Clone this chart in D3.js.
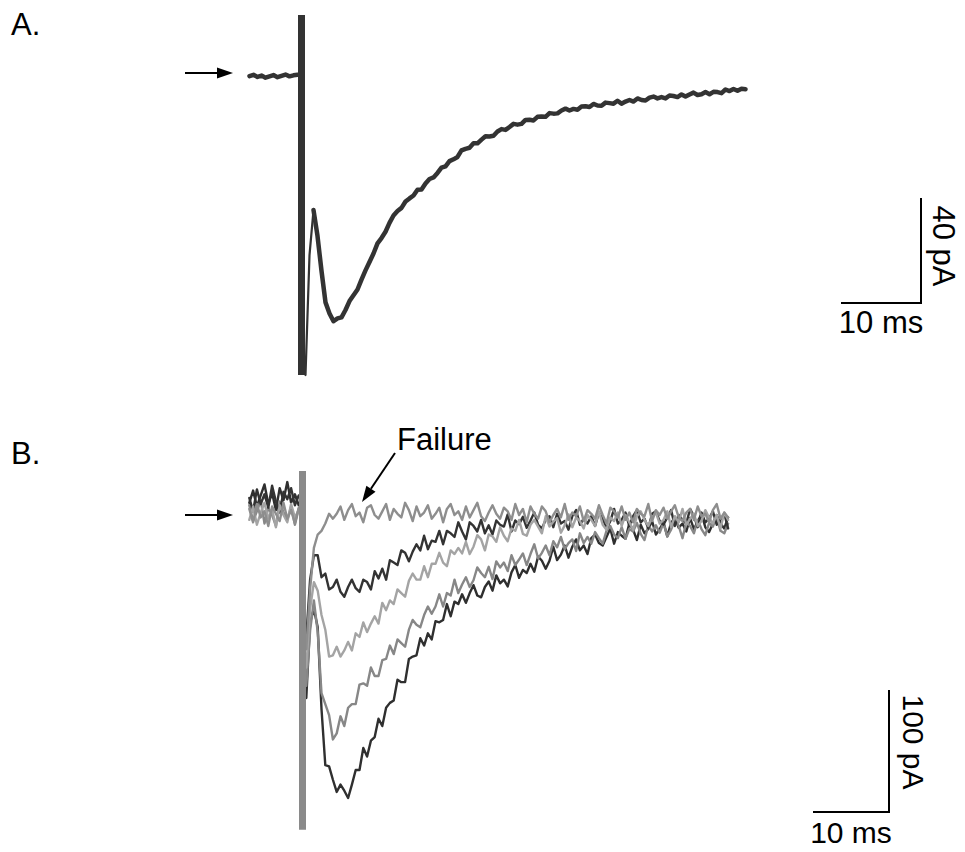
<!DOCTYPE html>
<html>
<head>
<meta charset="utf-8">
<script src="https://cdn.jsdelivr.net/npm/d3@7"></script>
<style>
  body { margin: 0; background: #fff; }
  svg { display: block; }
  text { font-family: "Liberation Sans", Arial, Helvetica, sans-serif; fill: #000; }
</style>
</head>
<body>
<svg id="fig" width="965" height="852"></svg>
<script>
// ---- recording parameters ----
const dt = 0.5;            // sampling interval of the displayed traces (ms)

// ---- Panel A: single evoked EPSC (pA) ----
const aPreStart = -6.5;    // ms, first pre-stimulus sample
const aPre = [-0.8, -0.3, -1.1, -0.6, -1.4, -0.9, -0.4, -1.2, -0.7, -0.2, -0.9, -0.5, -0.3];
const aPostStart = 0.5;    // ms, first post-stimulus sample
const aPost = [
  -114.7, -69, -51.8, -61.7, -75, -87, -91.2, -94.2, -93.1, -92.7,
  -89.9, -86.5, -84.3, -82.1, -78.3, -74.8, -71.6, -68.4, -64.5, -62.5,
  -60.1, -56.7, -53.9, -52.2, -51, -48.6, -47.4, -46.3, -44.1, -44,
  -41.7, -40, -39.4, -37.7, -35.7, -35.2, -33.2, -32.5, -31.6, -29.1,
  -28.5, -28.1, -26.4, -26.4, -25, -23.7, -23.8, -23.5, -21.9, -21,
  -21.3, -20.2, -19, -19.3, -19, -17.5, -17.4, -17.7, -16.3, -16.2,
  -16.3, -14.9, -15.1, -15, -13.9, -13.2, -13.9, -13.3, -13.6, -12.4,
  -12.3, -12.6, -11.4, -12, -12.1, -10.9, -11.1, -11.3, -10.2, -11.3,
  -10.5, -9.9, -10.5, -9.3, -9.9, -10.1, -9, -8.6, -9.3, -8.8,
  -9.3, -8.2, -8.4, -8.8, -7.8, -8.6, -7.8, -7.1, -8, -7.7,
  -6.9, -7.7, -6.8, -6.9, -7.3, -5.9, -6.5, -5.7, -6.4, -5.6, -5.8
];
const aFastSamples = 3;             // artifact recovery drawn as a fine line
const aArtifact = [22.5, -114.7];   // stimulus artifact extent (pA)
const aScaleBar = { ms: 10, pA: 40 };

// ---- Panel B: five consecutive trials (pA) ----
const bPreStart = -7;
const bPostStart = 0.5;
const bFailurePre = [5, -6, 9, -2, 3, -9, 7, 1, -5, 10, -3, 4, -7, 6];
const bFailurePost = [
  -110, -61, -27, -16, -13, -7, 1, -3, 1, 7, -4, 4, 9, -1, 2, -6, 6, 8, 0, -3,
  3, 9, -4, 5, 1, -2, 10, 4, -5, 7, -1, 2, 8, -3, 1, 6, -6, 5, 9, 0,
  3, -4, 7, -2, 4, 10, -1, -5, 2, 8, 1, -3, 6, 3, -4, 9, 0, 5, -6, 7,
  1, -3, 7, 3, -6, 0, 5, -2, 9, -4, 2, -1, 7, -5, 4, 1, -3, 8, 0, -7,
  6, 3, -2, 7, -4, 2, -6, 5, 1, -1, 9, -5, 4, 0, 6, -3, 3, 8, -2, -5,
  2, 5, -4, 7, -1, 1, -6, 4, 9, -3, 2, -2
];
const bSmallPre = [14, 3, 21, 9, 17, 6, 24, 11, 2, 19, 13, 22, 8, 16];
const bSmallPost = [
  -100, -53, -33, -33, -51, -48, -61, -59, -53, -63, -67, -59, -53, -60, -63, -53, -55, -61, -46, -52,
  -44, -53, -37, -39, -41, -29, -31, -38, -30, -24, -29, -17, -28, -21, -22, -13, -24, -13, -15, -18,
  -6, -13.5, -20, -6, -9, -13.5, -4, -15, -8.5, -16, -4.5, -8, -9.5, 0.5, -13.5, -4.5, -7.5, -1.5, -10.5, -4.5,
  2, -8, -11, -4, -1, -10, 1, -7, -5, -12, -1, 4, -8, -3, -7, -1, -9, 2, -3, -11,
  -5, 5, -7, -4, 2, -9, -1, 4, -6, -3, -11, 1, 3, -5, -8, -2, 4, -9, 0, -4,
  -7, 5, -1, -10, 2, -6, -3, 3, -8, -4, 1, -11
];
const bMediumPre = [-4, 7, -8, 2, 10, -3, 5, -10, 8, 0, -6, 9, -2, 4];
const bMediumPost = [
  -125, -77, -55, -62, -82, -94, -116, -115, -108, -116, -111, -104, -111, -97, -100, -88, -96, -89, -83, -89,
  -72, -78, -70, -73, -61, -64, -67, -54, -48, -53, -53, -42, -51, -40, -40, -31, -39, -42, -29, -32,
  -27, -31.5, -22, -32, -26, -16.5, -20, -29, -16, -17.5, -22, -10, -17, -21.5, -11, -13, -4, -15.5, -17, -8,
  -4, -9.5, -15, -1, -9.5, -5.5, -2.5, -14.5, -8.5, 0.5, -10, -2, -5, -11, 0, -4, -9, 3, -8, -12,
  -2, -5, 2, -9, 0, -6, -12, -1, 3, -4, -9, -2, 2, -7, -4, 3, -10, -1, -6, 5,
  -8, -3, 1, -9, -5, 4, -2, -7, 0, -11, 2, -4
];
const bLargePre = [8, -5, 3, 12, -7, 6, 0, -9, 11, 2, -4, 7, -8, 5];
const bLargePost = [
  -140, -95, -70, -96, -146, -155, -164, -184, -179, -165, -173, -158, -155, -155, -139, -138, -140, -125, -132, -132,
  -119, -118, -107, -114, -102, -105, -108, -94, -86, -90, -92, -82, -75, -81, -75, -65, -75, -64, -66, -53,
  -64, -57, -51, -59, -53.5, -43, -47.5, -51, -42.5, -52.5, -38, -43, -39, -46, -33, -41, -36.5, -31.5, -41, -32,
  -24, -35.5, -31, -25, -33, -21.5, -26.5, -18, -28, -23, -20, -29.5, -15, -23, -18, -23.5, -14, -19, -23.5, -13,
  -9, -16, -19, -10, -19.5, -11.5, -13.5, -6.5, -15.5, -20.5, -8.5, -13.5, -8.5, -14.5, -6.5, -17.5, -12, -4, -9, -19,
  -6, -9, -15, -4, -11.5, -16.5, -6.5, -9.5, -1, -13, -15, -7
];
const bMaxPre = [10, 20, 7, 16, 25, 9, 18, 4, 22, 12, 27, 10, 17, 8];
const bMaxPost = [
  -150, -88, -77, -92, -159, -205, -206, -217, -227, -221, -226, -232, -221, -209, -209, -191, -198, -185, -182, -167,
  -173, -158, -154, -152, -135, -137, -137, -118, -116, -115, -101, -107, -97, -102, -87, -88, -86, -73, -83, -71,
  -73, -65, -72, -64, -57.5, -66, -67.5, -59, -54.5, -62, -49.5, -56, -53, -58.5, -47, -41, -51.5, -45, -47.5, -40,
  -46.5, -34, -37.5, -44, -37.5, -26, -37, -32.5, -25, -35, -26, -20, -29, -25, -32, -19, -16, -23, -25, -18,
  -11, -23.5, -14, -17, -19.5, -7, -12, -20.5, -8, -15, -11.5, -5, -16, -11.5, -6, -17.5, -6.5, -2, -10.5, -7,
  -13.5, -2.5, -11.5, -5.5, 1, -10, -14, -7, 0, -7, -11, -2
];
const bArtifact = [36, -258];
const bScaleBar = { ms: 10, pA: 100 };

// trace colours, in drawing order (back to front)
const bNames  = ["max", "large", "small", "medium", "failure"];
const bColors = ["#2f2f2f", "#878787", "#333333", "#a4a4a4", "#8e8e8e"];
const bPres   = [bMaxPre, bLargePre, bSmallPre, bMediumPre, bFailurePre];
const bPosts  = [bMaxPost, bLargePost, bSmallPost, bMediumPost, bFailurePost];

// ---- scales ----
const xA = d3.scaleLinear().domain([0, 10]).range([301.5, 381.5]);
const yA = d3.scaleLinear().domain([0, -40]).range([74, 179]);
const xB = d3.scaleLinear().domain([0, 10]).range([302.5, 378.5]);
const yB = d3.scaleLinear().domain([0, -100]).range([515, 637]);

const svg = d3.select("#fig");
const samples = (start, vals) => vals.map((v, i) => ({ t: start + i * dt, v }));

function drawTrace(g, xs, ys, pts, color, width) {
  const line = d3.line().x(d => xs(d.t)).y(d => ys(d.v));
  g.append("path")
    .attr("d", line(pts))
    .attr("fill", "none")
    .attr("stroke", color)
    .attr("stroke-width", width)
    .attr("stroke-linejoin", "round")
    .attr("stroke-linecap", "round");
}

function arrow(g, x1, y1, x2, y2) {
  const ang = Math.atan2(y2 - y1, x2 - x1);
  const L = 16, W = 5.5;
  const bx = x2 - L * Math.cos(ang), by = y2 - L * Math.sin(ang);
  g.append("line").attr("x1", x1).attr("y1", y1).attr("x2", bx).attr("y2", by)
    .attr("stroke", "#000").attr("stroke-width", 2);
  const px = -Math.sin(ang) * W, py = Math.cos(ang) * W;
  g.append("path")
    .attr("d", `M${x2},${y2}L${bx + px},${by + py}L${bx - px},${by - py}Z`)
    .attr("fill", "#000");
}

function scaleBar(g, xs, ys, cornerX, cornerY, bar, msLabel, pALabel, msBase, pABase, pAMid, fs) {
  const w = xs(bar.ms) - xs(0);
  const h = ys(-bar.pA) - ys(0);
  g.append("path")
    .attr("d", `M${cornerX - w},${cornerY}H${cornerX}V${cornerY - h}`)
    .attr("fill", "none").attr("stroke", "#000").attr("stroke-width", 2);
  g.append("text")
    .attr("x", cornerX - w / 2).attr("y", msBase)
    .attr("text-anchor", "middle").attr("font-size", fs)
    .text(msLabel);
  g.append("text")
    .attr("transform", `translate(${pABase},${pAMid}) rotate(90)`)
    .attr("text-anchor", "middle").attr("font-size", fs)
    .text(pALabel);
}

// ---- Panel A ----
const gA = svg.append("g");
gA.append("text").attr("x", 11).attr("y", 35).attr("font-size", 31).text("A.");
arrow(gA, 185, yA(0) - 1, 233, yA(0) - 1);
const aPostPts = samples(aPostStart, aPost);
drawTrace(gA, xA, yA, samples(aPreStart, aPre), "#333", 4.5);
drawTrace(gA, xA, yA, aPostPts.slice(0, aFastSamples), "#333", 2.2);
drawTrace(gA, xA, yA, aPostPts.slice(aFastSamples - 1), "#333", 4.5);
gA.append("line")
  .attr("x1", xA(0)).attr("x2", xA(0))
  .attr("y1", yA(aArtifact[0])).attr("y2", yA(aArtifact[1]))
  .attr("stroke", "#333").attr("stroke-width", 7);
scaleBar(gA, xA, yA, 921, 303, aScaleBar, "10 ms", "40 pA", 333, 933, 246, 31);

// ---- Panel B ----
const gB = svg.append("g");
gB.append("text").attr("x", 11).attr("y", 464).attr("font-size", 31).text("B.");
arrow(gB, 185, yB(0), 233, yB(0));
bNames.forEach((name, k) => {
  drawTrace(gB, xB, yB, samples(bPreStart, bPres[k]), bColors[k], 2.4);
  drawTrace(gB, xB, yB, samples(bPostStart, bPosts[k]), bColors[k], 2.4);
});
gB.append("line")
  .attr("x1", xB(0)).attr("x2", xB(0))
  .attr("y1", yB(bArtifact[0])).attr("y2", yB(bArtifact[1]))
  .attr("stroke", "#8a8a8a").attr("stroke-width", 7);
gB.append("text").attr("x", 397).attr("y", 450).attr("font-size", 31).text("Failure");
arrow(gB, 395, 453, 362, 502);
scaleBar(gB, xB, yB, 889, 812, bScaleBar, "10 ms", "100 pA", 843, 903, 742, 30);
</script>
</body>
</html>
